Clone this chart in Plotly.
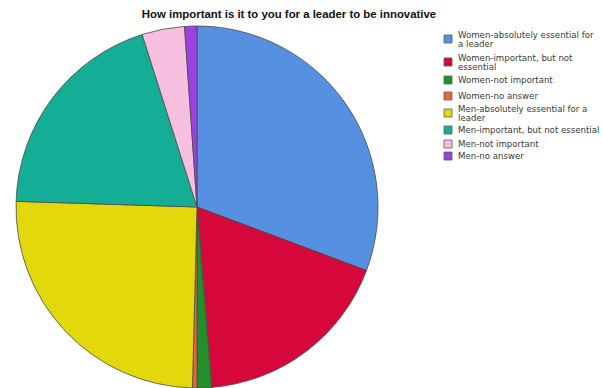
import plotly.graph_objects as go

# Survey answers: "How important is it to you for a leader to be innovative"
categories = [
    "Women-absolutely essential for a leader",
    "Women-important, but not essential",
    "Women-not important",
    "Women-no answer",
    "Men-absolutely essential for a leader",
    "Men-important, but not essential",
    "Men-not important",
    "Men-no answer",
]
# legend text as it wraps in the key (one list entry per line)
legend_lines = [
    ["Women-absolutely essential for", "a leader"],
    ["Women-important, but not", "essential"],
    ["Women-not important"],
    ["Women-no answer"],
    ["Men-absolutely essential for a", "leader"],
    ["Men-important, but not essential"],
    ["Men-not important"],
    ["Men-no answer"],
]
shares = [30.7, 18.0, 1.3, 0.4, 25.1, 19.6, 3.8, 1.1]
colors = ["#5690E0", "#D6083B", "#21902C", "#E8673A",
          "#E2D80C", "#14AE96", "#F8C0E0", "#9B40E4"]

W, H = 603, 388
KEY_FONT = dict(family="DejaVu Sans, Verdana, sans-serif", size=8.6, color="#3a3a3a")


def px_x(x):
    return x / W


def px_y(y):
    return 1 - y / H


fig = go.Figure()
fig.add_trace(go.Pie(
    labels=categories,
    values=shares,
    sort=False,
    direction="clockwise",
    rotation=0,
    textinfo="none",
    marker=dict(colors=colors, line=dict(color="#4a4a4a", width=0.8)),
    domain=dict(x=[px_x(16), px_x(378)], y=[0, px_y(26)]),
    showlegend=False,
))

# hand-built key on the right
swatch_y = [39, 62, 80, 96, 113, 130, 144, 156]
shapes, annotations = [], []
for i, (lines, col) in enumerate(zip(legend_lines, colors)):
    cy = swatch_y[i]
    shapes.append(dict(
        type="rect", xref="paper", yref="paper",
        x0=px_x(444), x1=px_x(452), y0=px_y(cy + 4), y1=px_y(cy - 4),
        fillcolor=col, line=dict(color="#5a5a5a", width=0.8),
    ))
    offsets = [0] if len(lines) == 1 else [-4.5, 5]
    for line, dy in zip(lines, offsets):
        annotations.append(dict(
            xref="paper", yref="paper", x=px_x(456), y=px_y(cy + dy),
            xanchor="left", yanchor="middle", text=line, showarrow=False,
            align="left", font=KEY_FONT,
        ))

fig.update_layout(
    width=W, height=H,
    margin=dict(l=0, r=0, t=0, b=0),
    paper_bgcolor="white",
    plot_bgcolor="white",
    title=dict(
        text="How important is it to you for a leader to be innovative",
        x=px_x(289), y=px_y(14), xanchor="center", yanchor="middle",
        font=dict(family="Liberation Sans, Arial, sans-serif", size=11.4,
                  color="#111111", weight="bold"),
    ),
    shapes=shapes,
    annotations=annotations,
)

fig.write_html("out.html")
